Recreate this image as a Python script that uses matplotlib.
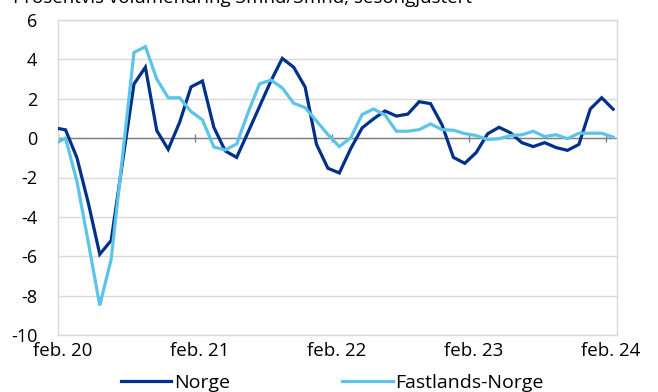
import numpy as np
import matplotlib
matplotlib.use("Agg")
import matplotlib.pyplot as plt
import matplotlib.transforms as mtransforms

# -----------------------------
# Data (monthly, jan 20 - feb 24)
# -----------------------------
norge = [0.53, 0.42, -1.0, -3.3, -5.9, -5.2, -1.2, 2.75, 3.6, 0.38,
         -0.57, 0.8, 2.6, 2.9, 0.55, -0.65, -0.98, 0.3, 1.6, 2.9,
         4.05, 3.6, 2.6, -0.32, -1.53, -1.77, -0.53, 0.52, 0.98, 1.38,
         1.12, 1.22, 1.85, 1.75, 0.68, -0.98, -1.28, -0.73, 0.22, 0.55,
         0.27, -0.23, -0.43, -0.23, -0.48, -0.62, -0.32, 1.48, 2.05, 1.47]
fastland = [-0.3, 0.0, -2.2, -5.3, -8.5, -6.15, -0.9, 4.35, 4.65, 3.0,
            2.05, 2.05, 1.35, 0.93, -0.45, -0.6, -0.3, 1.3, 2.75, 2.95,
            2.55, 1.77, 1.55, 0.87, 0.18, -0.43, 0.02, 1.2, 1.48, 1.18,
            0.35, 0.35, 0.43, 0.72, 0.43, 0.4, 0.23, 0.13, -0.07, -0.03,
            0.13, 0.17, 0.35, 0.08, 0.17, -0.03, 0.25, 0.25, 0.25, 0.05]
tick_labels = ["feb. 20", "feb. 21", "feb. 22", "feb. 23", "feb. 24"]
title = "Prosentvis volumendring 3mnd/3mnd, sesongjustert"

# -----------------------------
# Setup
# -----------------------------
plt.rcParams["font.family"] = ["Open Sans", "DejaVu Sans"]
plt.rcParams["axes.unicode_minus"] = False
DARK = "#00308a"
LIGHT = "#5bc4e8"
GRID = "#d9d9d9"

# months since feb 20; points sit a bit before the month tick
x = np.arange(len(norge)) - 0.34
tick_pos = np.arange(len(tick_labels)) * 12

fig = plt.figure(figsize=(6.58, 3.92), dpi=100)
ax = fig.add_axes([58 / 658, 1 - 335 / 392, 559 / 658, 315 / 392])

ax.plot(x, norge, color=DARK, lw=2.3, label="Norge", solid_joinstyle="miter", zorder=3)
ax.plot(x, fastland, color=LIGHT, lw=2.3, label="Fastlands-Norge", solid_joinstyle="miter", zorder=3)

ax.set_xlim(0, 49)
ax.set_ylim(-10, 6)
ax.set_yticks(np.arange(-10, 7, 2))
ax.yaxis.grid(True, color=GRID, lw=1.0)
ax.set_axisbelow(True)
ax.tick_params(axis="y", length=0, pad=15, labelsize=13)

# zero line with small tick marks
ax.axhline(0, color="#808080", lw=1.0, zorder=2)
ax.vlines(tick_pos, -0.22, 0.22, color="#808080", lw=1.0, zorder=2)

ax.set_xticks(tick_pos)
ax.set_xticklabels(tick_labels)
ax.tick_params(axis="x", length=0, pad=5, labelsize=13.5)
offset = mtransforms.ScaledTranslation(5 / 100, 0, fig.dpi_scale_trans)
for lab in ax.get_xticklabels():
    lab.set_transform(lab.get_transform() + offset)

for s in ax.spines.values():
    s.set_color(GRID)
    s.set_linewidth(1.0)

fig.text(13 / 658, 1 - 3 / 392, title, fontsize=13.5, va="baseline", ha="left")

ax.legend(loc="lower center", bbox_to_anchor=(0.505, 0.0), bbox_transform=fig.transFigure,
          ncol=2, frameon=False, fontsize=14, handlelength=2.6, handletextpad=0.12,
          columnspacing=5.8, borderpad=0, borderaxespad=0)

fig.savefig("out.png", dpi=100)
